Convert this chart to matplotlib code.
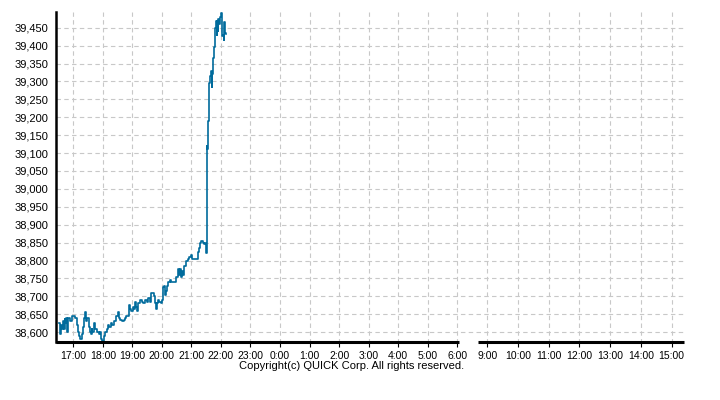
import matplotlib
matplotlib.use("Agg")
import matplotlib.pyplot as plt
from matplotlib.ticker import FuncFormatter

plt.rcParams['font.family'] = ['Liberation Sans', 'DejaVu Sans']

# intraday prices (night session)
times = ['16:30', '16:32', '16:34', '16:37', '16:40', '16:42', '16:43', '16:44', '16:46',
         '16:48', '16:50', '16:53', '16:57', '17:00', '17:04', '17:07', '17:09', '17:12',
         '17:14', '17:17', '17:19', '17:22', '17:24', '17:26', '17:28', '17:31', '17:33',
         '17:35', '17:38', '17:39', '17:43', '17:45', '17:48', '17:52', '17:54', '17:56',
         '17:58', '18:00', '18:02', '18:05', '18:08', '18:10', '18:13', '18:17', '18:19',
         '18:23', '18:26', '18:30', '18:32', '18:35', '18:38', '18:42', '18:45', '18:48',
         '18:51', '18:53', '18:55', '18:58', '19:01', '19:03', '19:05', '19:07', '19:09',
         '19:12', '19:16', '19:19', '19:22', '19:26', '19:29', '19:32', '19:35', '19:37',
         '19:44', '19:46', '19:48', '19:50', '19:52', '19:55', '19:58', '20:00', '20:02',
         '20:03', '20:05', '20:07', '20:09', '20:11', '20:13', '20:17', '20:19', '20:22',
         '20:29', '20:32', '20:34', '20:36', '20:38', '20:40', '20:42', '20:45', '20:48',
         '20:50', '20:53', '20:56', '20:59', '21:01', '21:04', '21:14', '21:15', '21:17',
         '21:20', '21:23', '21:26', '21:28', '21:30', '21:31', '21:32', '21:33', '21:35',
         '21:37', '21:39', '21:41', '21:42', '21:43', '21:45', '21:47', '21:48', '21:49',
         '21:51', '21:52', '21:53', '21:54', '21:56', '21:58', '22:00', '22:02', '22:03',
         '22:04', '22:06', '22:07', '22:08', '22:10']
prices = [38625, 38595, 38620, 38610, 38630, 38610, 38638, 38625, 38640,
          38600, 38640, 38630, 38645, 38645, 38640, 38620, 38600, 38590,
          38580, 38595, 38615, 38640, 38655, 38630, 38640, 38615, 38600,
          38595, 38610, 38600, 38625, 38610, 38600, 38595, 38600, 38580,
          38570, 38575, 38590, 38600, 38610, 38620, 38615, 38625, 38620,
          38630, 38645, 38655, 38640, 38635, 38630, 38635, 38640, 38645,
          38645, 38675, 38665, 38660, 38670, 38665, 38685, 38670, 38660,
          38680, 38690, 38685, 38680, 38690, 38685, 38695, 38685, 38710,
          38700, 38680, 38665, 38680, 38690, 38685, 38680, 38690, 38700,
          38725, 38730, 38705, 38715, 38730, 38740, 38745, 38740, 38740,
          38755, 38775, 38760, 38775, 38755, 38770, 38760, 38785, 38790,
          38800, 38805, 38810, 38815, 38805, 38805, 38825, 38835, 38850,
          38855, 38850, 38845, 38850, 38820, 39120, 39110, 39190, 39295,
          39315, 39330, 39285, 39320, 39365, 39395, 39445, 39450, 39470,
          39430, 39470, 39440, 39475, 39460, 39480, 39490, 39490, 39427,
          39430, 39415, 39465, 39435, 39432]

night_ticks = ['17:00', '18:00', '19:00', '20:00', '21:00', '22:00', '23:00',
               '0:00', '1:00', '2:00', '3:00', '4:00', '5:00', '6:00']
day_ticks = ['9:00', '10:00', '11:00', '12:00', '13:00', '14:00', '15:00']
y_ticks = list(range(38600, 39451, 50))


def to_hours(s):
    h, m = s.split(':')
    return int(h) + int(m) / 60.0


def night_x(s):
    # night session panel: 16:30 -> 6:00 (next day)
    h = to_hours(s)
    if h < 12:
        h += 24
    return 73.3 + (h - 17) * 29.53


def day_x(s):
    # day session panel
    return 487.3 + (to_hours(s) - 9) * 30.7


fig = plt.figure(figsize=(7.2, 4.0), dpi=100)
ax = fig.add_axes([55.5 / 720, 1 - 342.5 / 400, (684 - 55.5) / 720, (342.5 - 12) / 400])

ax.plot([night_x(t) for t in times], prices, color='#006b9c', lw=1.2,
        drawstyle='steps-post', zorder=3)

ax.set_xlim(55.5, 684)
ax.set_ylim(38571, 39494)

xt = [night_x(t) for t in night_ticks] + [day_x(t) for t in day_ticks]
ax.set_xticks(xt)
ax.set_xticklabels(night_ticks + day_ticks, fontsize=7.5)
ax.set_yticks(y_ticks)
ax.yaxis.set_major_formatter(FuncFormatter(lambda v, p: f'{int(v):,}'))
for lab in ax.get_yticklabels():
    lab.set_fontsize(8)

ax.grid(True, color='#c8c8c8', linestyle=(0, (4, 3)), linewidth=0.8)
ax.set_axisbelow(True)
ax.tick_params(axis='x', length=3, width=0.8, pad=3, color='black')
ax.tick_params(axis='y', length=0, pad=5)

for side in ['top', 'right', 'bottom']:
    ax.spines[side].set_visible(False)
ax.spines['left'].set_linewidth(1.8)

# broken bottom axis: night and day sessions
y0 = ax.get_ylim()[0]
ax.hlines(y0, 55.5, 458.5, color='black', lw=2.2, clip_on=False, zorder=4)
ax.hlines(y0, 477.5, 684, color='black', lw=2.2, clip_on=False, zorder=4)

fig.text(464 / 720, 1 - 369 / 400, 'Copyright(c) QUICK Corp. All rights reserved.',
         ha='right', va='baseline', fontsize=8)

fig.savefig('out.png', dpi=100)
